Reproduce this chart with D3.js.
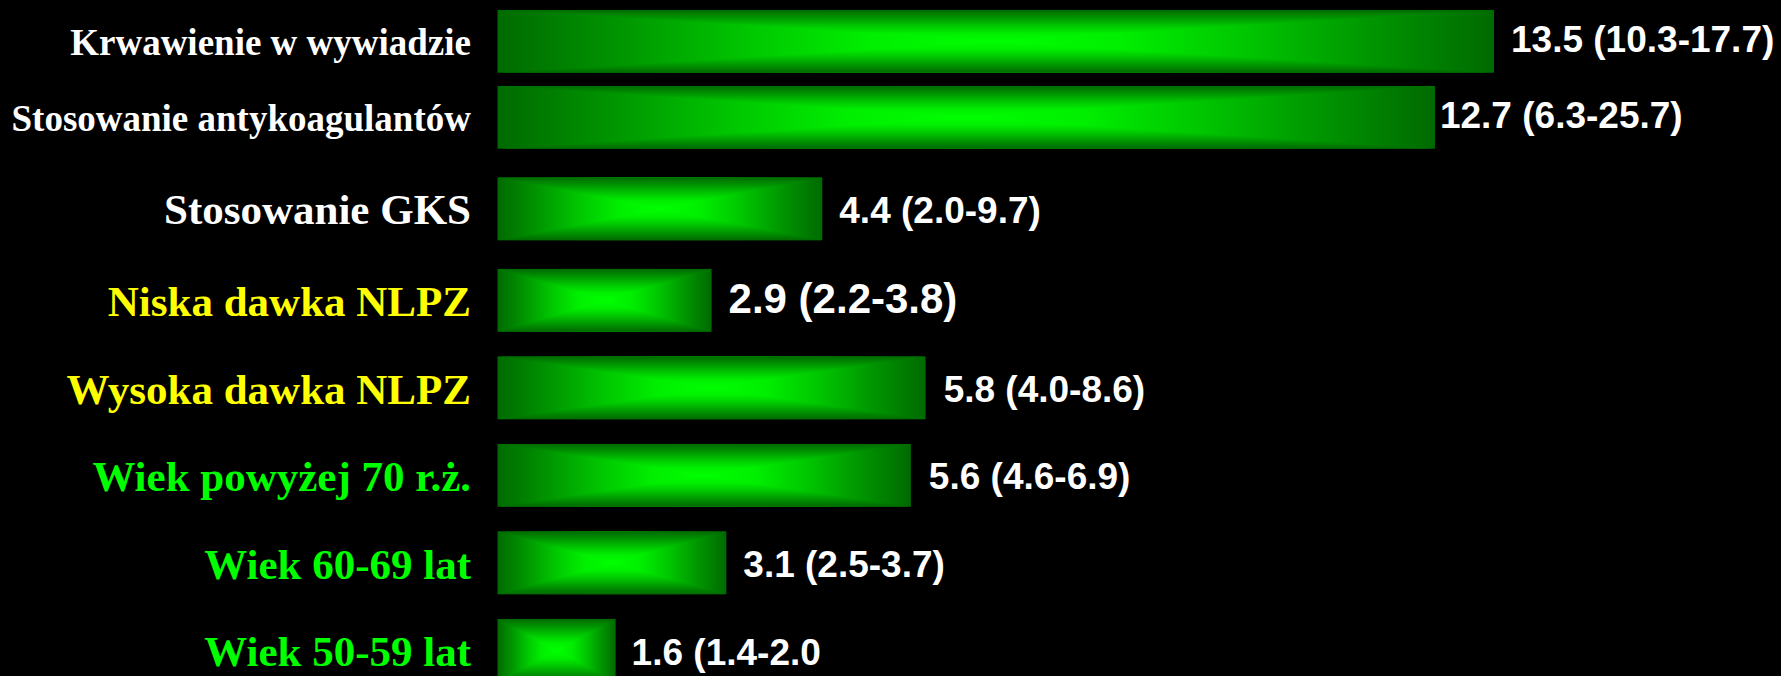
<!DOCTYPE html>
<html>
<head>
<meta charset="utf-8">
<script src="https://cdn.jsdelivr.net/npm/d3@7"></script>
<style>
  html, body { margin: 0; padding: 0; background: #000; }
  svg { display: block; }
</style>
</head>
<body>
<svg id="chart" width="1781" height="676"></svg>
<script>
// ---- data ----
const categories = [
  "Krwawienie w wywiadzie",
  "Stosowanie antykoagulantów",
  "Stosowanie GKS",
  "Niska dawka NLPZ",
  "Wysoka dawka NLPZ",
  "Wiek powyżej 70 r.ż.",
  "Wiek 60-69 lat",
  "Wiek 50-59 lat"
];
const values = [13.5, 12.7, 4.4, 2.9, 5.8, 5.6, 3.1, 1.6];
const ciLow  = [10.3, 6.3, 2.0, 2.2, 4.0, 4.6, 2.5, 1.4];
const ciHigh = [17.7, 25.7, 9.7, 3.8, 8.6, 6.9, 3.7, 2.0];
const valueLabels = [
  "13.5 (10.3-17.7)",
  "12.7 (6.3-25.7)",
  "4.4 (2.0-9.7)",
  "2.9 (2.2-3.8)",
  "5.8 (4.0-8.6)",
  "5.6 (4.6-6.9)",
  "3.1 (2.5-3.7)",
  "1.6 (1.4-2.0"
];

// ---- layout / style (kept separate from data) ----
const W = 1781, H = 676;
const barHeight = 62.7;
const catColors = ["#ffffff", "#ffffff", "#ffffff", "#ffff00", "#ffff00", "#00ff00", "#00ff00", "#00ff00"];
const catSizes  = [37, 37, 43, 43, 43, 43, 43, 43];
const catDy     = [13.7, 13.7, 15.6, 15.6, 16, 16, 16, 16];
const valSizes  = [37, 37, 37, 42, 37, 37, 37, 37];
const valDy     = [11, 11, 14, 13, 14, 14, 14, 15];
const valGap    = [17, 5, 17, 17, 18, 18, 17, 16];

const svg = d3.select("#chart");
svg.append("rect").attr("width", W).attr("height", H).attr("fill", "#000");

const x = d3.scaleLinear().domain([0, 13.5]).range([497.5, 1494]);
const y = d3.scaleLinear().domain([0, 1, 3, 7]).range([41.3, 117.3, 300.3, 650.3]);

// gradients: rectangular "path" gradient built from a horizontal fill + top/bottom triangles
const stops = [
  [0, "#006a00"], [0.25, "#009600"], [0.5, "#00c600"], [0.75, "#00ef00"], [1, "#00ff00"]
];
const defs = svg.append("defs");
const gH = defs.append("linearGradient").attr("id", "gH")
  .attr("x1", 0).attr("y1", 0).attr("x2", 1).attr("y2", 0);
stops.forEach(([t, c]) => gH.append("stop").attr("offset", t / 2).attr("stop-color", c));
stops.slice().reverse().forEach(([t, c]) => gH.append("stop").attr("offset", 1 - t / 2).attr("stop-color", c));
const gT = defs.append("linearGradient").attr("id", "gT")
  .attr("x1", 0).attr("y1", 0).attr("x2", 0).attr("y2", 1);
stops.forEach(([t, c]) => gT.append("stop").attr("offset", t).attr("stop-color", c));
const gB = defs.append("linearGradient").attr("id", "gB")
  .attr("x1", 0).attr("y1", 1).attr("x2", 0).attr("y2", 0);
stops.forEach(([t, c]) => gB.append("stop").attr("offset", t).attr("stop-color", c));

const rows = categories.map((c, i) => ({ i, c, v: values[i], lo: ciLow[i], hi: ciHigh[i], label: valueLabels[i] }));

const g = svg.append("g").selectAll("g.bar").data(rows).join("g").attr("class", "bar");

g.each(function(d) {
  const sel = d3.select(this);
  const x0 = x(0), x1 = x(d.v);
  const cy = y(d.i);
  const y0 = cy - barHeight / 2, y1 = cy + barHeight / 2;
  const cx = (x0 + x1) / 2;
  sel.append("rect")
    .attr("x", x0).attr("y", y0)
    .attr("width", x1 - x0).attr("height", barHeight)
    .attr("fill", "url(#gH)");
  sel.append("path")
    .attr("d", `M${x0},${y0}L${x1},${y0}L${cx},${cy}Z`)
    .attr("fill", "url(#gT)");
  sel.append("path")
    .attr("d", `M${x0},${y1}L${x1},${y1}L${cx},${cy}Z`)
    .attr("fill", "url(#gB)");
});

// category labels
svg.append("g").selectAll("text.cat").data(rows).join("text")
  .attr("class", "cat")
  .attr("x", 471)
  .attr("y", d => y(d.i) + catDy[d.i])
  .attr("text-anchor", "end")
  .attr("font-family", "'Liberation Serif', 'Times New Roman', serif")
  .attr("font-weight", "bold")
  .attr("font-size", d => catSizes[d.i])
  .attr("fill", d => catColors[d.i])
  .text(d => d.c);

// value labels
svg.append("g").selectAll("text.val").data(rows).join("text")
  .attr("class", "val")
  .attr("x", d => x(d.v) + valGap[d.i])
  .attr("y", d => y(d.i) + valDy[d.i])
  .attr("font-family", "'Liberation Sans', Arial, sans-serif")
  .attr("font-weight", "bold")
  .attr("font-size", d => valSizes[d.i])
  .attr("fill", "#ffffff")
  .text(d => d.label);
</script>
</body>
</html>
